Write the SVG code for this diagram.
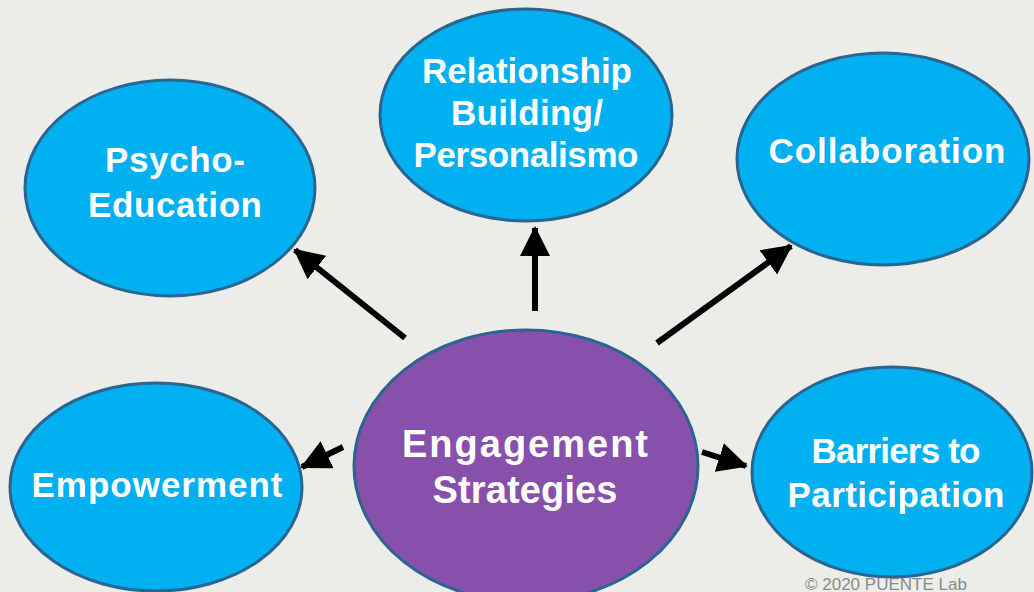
<svg xmlns="http://www.w3.org/2000/svg" width="1034" height="592" viewBox="0 0 1034 592">
<defs>
<style>
.blue{fill:#00b0f0;stroke:#2a6592;stroke-width:3}
.purple{fill:#8750ab;stroke:#2a6592;stroke-width:3}
.t{font-family:"Liberation Sans",Arial,sans-serif;font-weight:bold;fill:#ffffff;text-anchor:middle;font-size:35px}
.c{stroke:#000;stroke-width:6;fill:none;marker-end:url(#ah)}
</style>
<marker id="ah" markerUnits="userSpaceOnUse" markerWidth="30" markerHeight="30" viewBox="0 0 30 30" refX="28" refY="15" orient="auto">
<path d="M0,0 L30,15 L0,30 Z" fill="#000"/>
</marker>
</defs>
<rect width="1034" height="592" fill="#ecece9"/>
<g id="connectors">
<line class="c" x1="405" y1="338" x2="295" y2="250"/>
<line class="c" x1="535" y1="311" x2="535" y2="228"/>
<line class="c" x1="657" y1="343" x2="791" y2="246"/>
<line class="c" x1="343" y1="447" x2="302" y2="467"/>
<line class="c" x1="702" y1="452" x2="746" y2="466"/>
</g>
<g id="psycho">
<ellipse class="blue" cx="170" cy="188" rx="145" ry="108"/>
<text class="t" x="175" y="172" textLength="140" lengthAdjust="spacing">Psycho-</text>
<text class="t" x="175" y="217" textLength="174" lengthAdjust="spacing">Education</text>
</g>
<g id="relationship">
<ellipse class="blue" cx="526" cy="115" rx="146" ry="106"/>
<text class="t" x="527" y="83" textLength="210" lengthAdjust="spacing">Relationship</text>
<text class="t" x="527" y="125" textLength="152" lengthAdjust="spacing">Building/</text>
<text class="t" x="526" y="167" textLength="225" lengthAdjust="spacing">Personalismo</text>
</g>
<g id="collaboration">
<ellipse class="blue" cx="883" cy="159" rx="146" ry="106"/>
<text class="t" x="887" y="163" textLength="237" lengthAdjust="spacing">Collaboration</text>
</g>
<g id="empowerment">
<ellipse class="blue" cx="156" cy="487" rx="146" ry="104"/>
<text class="t" x="157" y="497" textLength="251" lengthAdjust="spacing">Empowerment</text>
</g>
<g id="engagement">
<ellipse class="purple" cx="526" cy="466" rx="172" ry="136"/>
<text class="t" style="font-size:38px" x="525" y="457" textLength="246" lengthAdjust="spacing">Engagement</text>
<text class="t" style="font-size:38px" x="525" y="503" textLength="185" lengthAdjust="spacing">Strategies</text>
</g>
<g id="barriers">
<ellipse class="blue" cx="892" cy="472" rx="140" ry="105"/>
<text class="t" x="896" y="463" textLength="169" lengthAdjust="spacing">Barriers to</text>
<text class="t" x="896" y="507" textLength="217" lengthAdjust="spacing">Participation</text>
</g>
<text x="805" y="590" font-family="Liberation Sans,Arial,sans-serif" font-size="17" fill="#8a8a8a">© 2020 PUENTE Lab</text>
</svg>
